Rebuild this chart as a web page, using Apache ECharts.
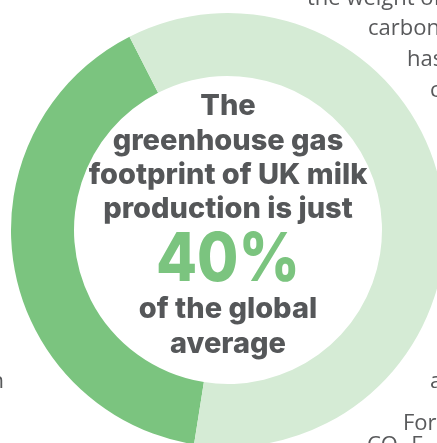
<!DOCTYPE html>
<html>
<head>
<meta charset="utf-8">
<script src="https://cdn.jsdelivr.net/npm/echarts@6/dist/echarts.min.js"></script>
<style>
  html, body { margin: 0; padding: 0; background: #fff; }
  #chart { width: 437px; height: 443px; }
</style>
</head>
<body>
<div id="chart"></div>
<script>
// UK share of the global milk greenhouse gas footprint
const shareNames = ['UK milk', 'rest of global average'];
const shareValues = [40, 60];
const shareColors = ['#7bc47f', '#d5ebd5'];

const headLines = ['The', 'greenhouse gas', 'footprint of UK milk', 'production is just'];
const tailLines = ['of the global', 'average'];

// fragments of the surrounding article text (baseline positions)
const sideText = [
  {text: 'the weight of', x: 307, y: 7},
  {text: 'carbon', x: 368, y: 37},
  {text: 'has', x: 407, y: 68},
  {text: 'c', x: 430, y: 99},
  {text: 'a', x: 430, y: 390},
  {text: 'For', x: 403, y: 432},
  {text: 'CO₂ E', x: 367, y: 454},
  {text: 'n', x: 4, y: 390, align: 'right'},
];

const grey = '#555759';
const bigFont = 'Inter, "Noto Sans", sans-serif';

const chart = echarts.init(document.getElementById('chart'));

// zrender has no alphabetic baseline: use middle and shift by font metrics
const bold = (t, x, base, size, fill, extra) => Object.assign({
  type: 'text', x: x, y: base - 0.36 * size, z: 100,
  style: {text: t, align: 'center', verticalAlign: 'middle', fill: fill,
    font: '800 ' + size + 'px ' + bigFont}
}, extra || {});

const graphics = [];
const headBase = [117, 152, 186, 220];
headLines.forEach((t, i) => graphics.push(bold(t, 228, headBase[i], 29, grey)));
graphics.push(bold(shareValues[0] + '%', 228, 285, 68, shareColors[0], {scaleX: 0.88}));
const tailBase = [320, 355];
tailLines.forEach((t, i) => graphics.push(bold(t, 228, tailBase[i], 29, grey)));

sideText.forEach(s => {
  graphics.push({
    type: 'text', x: s.x, y: s.y - 0.39 * 22, z: 100,
    style: {text: s.text, align: s.align || 'left', verticalAlign: 'middle', fill: '#58595b',
      font: '22px "Open Sans", sans-serif'}
  });
});

const option = {
  animation: false,
  series: [{
    type: 'pie',
    center: [228, 230],
    radius: [154, 217],
    startAngle: 261,
    clockwise: true,
    label: {show: false},
    labelLine: {show: false},
    emphasis: {disabled: true},
    itemStyle: {borderWidth: 0},
    data: shareNames.map((n, i) => ({
      name: n, value: shareValues[i], itemStyle: {color: shareColors[i]}
    }))
  }],
  graphic: graphics
};
chart.setOption(option);
</script>
</body>
</html>
